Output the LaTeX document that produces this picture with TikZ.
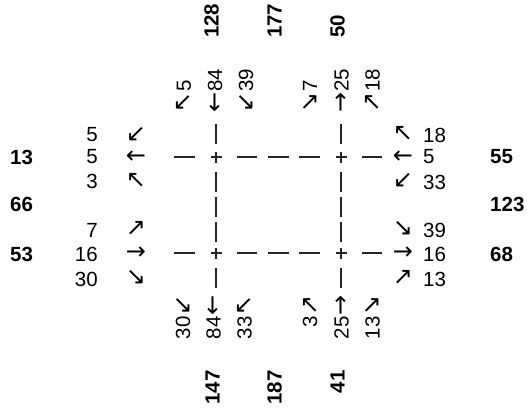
\documentclass[tikz,border=0pt]{standalone}
\usepackage{fontspec}
\setmainfont{Liberation Sans}
\newfontfamily\arr{DejaVu Sans}
\newcommand{\A}[1]{{\fontsize{24}{26}\selectfont\arr #1}}
\begin{document}
\begin{tikzpicture}[x=1pt,y=-1pt,
  num/.style={inner sep=0pt,font=\fontsize{20.5}{24}\selectfont},
  bnum/.style={inner sep=0pt,font=\fontsize{20.5}{24}\selectfont\bfseries},
  arw/.style={inner sep=0pt,text height=12pt,text depth=-3.4pt,font=\fontsize{24}{26}\selectfont\arr},
  seg/.style={line width=1.4pt,black!85},
  plusmark/.style={line width=1.4pt,black!85},
]
\useasboundingbox (0,0) rectangle (527,408);
% road dashes
\foreach \yy in {157,253}{
  \foreach \a/\b in {174/195,237/257,268/289,299/320,362/382}
    \draw[seg] (\a,\yy) -- (\b,\yy);
}
\foreach \xx in {216,341}{
  \foreach \a/\b in {124/144,172/192,197/217,222/242,268/288}
    \draw[seg] (\xx,\a) -- (\xx,\b);
}
% intersections
\foreach \xx/\yy in {216/157,341/157,216/253,341/253}{
  \draw[plusmark] (\xx-5.5,\yy) -- (\xx+5.5,\yy);
  \draw[plusmark] (\xx,\yy-5.5) -- (\xx,\yy+5.5);
}
% left approaches
\node[num,anchor=east] (l1n) at (98,135) {5};
\node[num,anchor=east] (l2n) at (98,157) {5};
\node[num,anchor=east] (l3n) at (98,181) {3};
\node[arw] (l1a) at (136,135) {↙};
\node[arw] (l2a) at (136,157) {←};
\node[arw] (l3a) at (136,181) {↖};
\node[num,anchor=east] (l4n) at (98,230) {7};
\node[num,anchor=east] (l5n) at (98,254.5) {16};
\node[num,anchor=east] (l6n) at (98,279) {30};
\node[arw] (l4a) at (136,229) {↗};
\node[arw] (l5a) at (136,253.5) {→};
\node[arw] (l6a) at (136,278) {↘};
% right approaches
\node[arw] (r1a) at (403,134) {↖};
\node[arw] (r2a) at (403,157) {←};
\node[arw] (r3a) at (403,181) {↙};
\node[num,anchor=west] (r1n) at (423,135) {18};
\node[num,anchor=west] (r2n) at (423,157) {5};
\node[num,anchor=west] (r3n) at (423,182) {33};
\node[arw] (r4a) at (403,229) {↘};
\node[arw] (r5a) at (403,253.5) {→};
\node[arw] (r6a) at (403,278) {↗};
\node[num,anchor=west] (r4n) at (423,230) {39};
\node[num,anchor=west] (r5n) at (423,254.5) {16};
\node[num,anchor=west] (r6n) at (423,279) {13};
% bold totals left / right
\node[bnum,anchor=west] (bl1) at (10,157) {13};
\node[bnum,anchor=west] (bl2) at (10,204) {66};
\node[bnum,anchor=west] (bl3) at (10,254) {53};
\node[bnum,anchor=west] (br1) at (490,157) {55};
\node[bnum,anchor=west] (br2) at (490,204) {123};
\node[bnum,anchor=west] (br3) at (490,254) {68};
% top approaches
\node[num,rotate=90,anchor=west] (t1) at (184,113) {\A{↖}\kern1pt5};
\node[num,rotate=90,anchor=west] (t2) at (215,113) {\A{←}\kern1pt84};
\node[num,rotate=90,anchor=west] (t3) at (246,113) {\A{↙}\kern1pt39};
\node[num,rotate=90,anchor=west] (t4) at (310,113) {\A{↘}\kern1pt7};
\node[num,rotate=90,anchor=west] (t5) at (341.5,113) {\A{→}\kern1pt25};
\node[num,rotate=90,anchor=west] (t6) at (372.5,113) {\A{↗}\kern1pt18};
% bottom approaches
\node[num,rotate=90,anchor=east] (b1) at (183,295) {30\kern1pt\A{↙}};
\node[num,rotate=90,anchor=east] (b2) at (213.5,295) {84\kern1pt\A{←}};
\node[num,rotate=90,anchor=east] (b3) at (244.5,295) {33\kern1pt\A{↖}};
\node[num,rotate=90,anchor=east] (b4) at (310,295) {3\kern1pt\A{↗}};
\node[num,rotate=90,anchor=east] (b5) at (341.5,295) {25\kern1pt\A{→}};
\node[num,rotate=90,anchor=east] (b6) at (372.5,295) {13\kern1pt\A{↘}};
% bold totals top / bottom
\node[bnum,rotate=90,anchor=west] (bt1) at (211.5,38) {128};
\node[bnum,rotate=90,anchor=west] (bt2) at (274.5,38) {177};
\node[bnum,rotate=90,anchor=west] (bt3) at (337.5,38) {50};
\node[bnum,rotate=90,anchor=east] (bb1) at (212.5,370) {147};
\node[bnum,rotate=90,anchor=east] (bb2) at (274.5,370) {187};
\node[bnum,rotate=90,anchor=east] (bb3) at (337.5,370) {41};
\end{tikzpicture}
\end{document}
